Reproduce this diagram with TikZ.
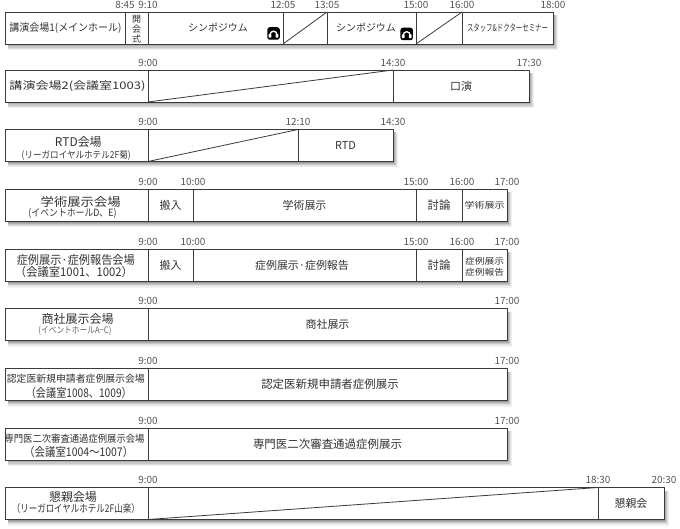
\documentclass[tikz,border=0pt]{standalone}
\usepackage{graphicx}
\usepackage{fontspec}
\setmainfont{Noto Sans CJK JP}
\definecolor{ink}{HTML}{3A3A3A}
\definecolor{txtc}{HTML}{333333}
\definecolor{tlab}{HTML}{555555}
\definecolor{lightt}{HTML}{666666}
\definecolor{shA}{HTML}{F0F0F0}
\definecolor{shB}{HTML}{DEDEDE}
\definecolor{shC}{HTML}{C8C8C8}
\definecolor{shD}{HTML}{B0B0B0}
\definecolor{shE}{HTML}{989898}
\newcommand\fsz[1]{\fontsize{#1}{#1}\selectfont}
\newcommand\sq[2]{\resizebox{#1}{\height}{#2}}
\newcommand\cellbox[5]{% name, x1, x2, ytop, ybot
  \pgfmathsetmacro\cellW{#3-#2}\pgfmathsetmacro\cellH{#5-#4}%
  \node[cell, minimum width=\cellW bp, minimum height=\cellH bp] (#1) at ({(#2+#3)/2},{(#4+#5)/2}) {};}
\newcommand\shbox[6]{% name, x1, x2, ytop, ybot, colour
  \pgfmathsetmacro\shW{(#3)-(#2)}\pgfmathsetmacro\shH{(#5)-(#4)}%
  \pgfmathsetmacro\shX{((#2)+(#3))/2}\pgfmathsetmacro\shY{((#4)+(#5))/2}%
  \node[shadowbox, fill=#6, minimum width=\shW bp, minimum height=\shH bp] (#1) at (\shX,\shY) {};}
\newcommand\shadeRow[5]{% prefix, x1, x2, ytop, ybot
  \shbox{#1a}{#2+3}{#3+4.5}{#4+3}{#5+6}{shA}%
  \shbox{#1b}{#2+3}{#3+3.6}{#4+3}{#5+4.8}{shB}%
  \shbox{#1c}{#2+3}{#3+2.7}{#4+3}{#5+3.6}{shC}%
  \shbox{#1d}{#2+3}{#3+1.8}{#4+3}{#5+2.4}{shD}%
  \shbox{#1e}{#2+3}{#3+0.9}{#4+3}{#5+1.2}{shE}}
\begin{document}
\begin{tikzpicture}[x=1bp,y=-1bp,
  cell/.style={draw=ink, line width=0.8bp, fill=white, inner sep=0pt, outer sep=0pt},
  shadowbox/.style={draw=none, inner sep=0pt, outer sep=0pt},
  txt/.style={inner sep=0pt, outer sep=0pt, text=txtc, align=center},
  tl/.style={inner sep=0pt, text=tlab, font=\fsz{10}},
  diag/.style={draw=ink, line width=0.8bp},
  phone/.style={fill=black, rounded corners=2.5bp, minimum size=12.5bp, inner sep=0pt,
    path picture={
      \draw[white, line width=1.3bp] ([xshift=-3.5bp,yshift=-1.2bp]path picture bounding box.center) arc[start angle=180, end angle=0, radius=3.5bp];
      \fill[white, rounded corners=0.6bp] ([xshift=-4.8bp,yshift=-4.2bp]path picture bounding box.center) rectangle ++(2.6bp,3.8bp);
      \fill[white, rounded corners=0.6bp] ([xshift=2.2bp,yshift=-4.2bp]path picture bounding box.center) rectangle ++(2.6bp,3.8bp);
    }}]
\useasboundingbox (0,0) rectangle (680,529);

% ---------- Row 1
\shadeRow{sh1}{5}{553}{12}{44}
\cellbox{v1}{5}{125}{12}{44}
\cellbox{o1}{125}{148}{12}{44}
\cellbox{s1}{148}{283}{12}{44}
\cellbox{d1}{283}{327}{12}{44}
\cellbox{s2}{327}{416}{12}{44}
\cellbox{d2}{416}{462}{12}{44}
\cellbox{m1}{462}{553}{12}{44}
\draw[diag] (d1.south west) -- (d1.north east);
\draw[diag] (d2.south west) -- (d2.north east);
\node[txt, font=\fsz{10.5}] (v1t) at (65.5,28) {\sq{112bp}{講演会場1(メインホール)}};
\node[txt, font=\fontsize{9}{10}\selectfont] (o1t) at (136.5,29) {開\\会\\式};
\node[txt, font=\fsz{10}] (s1t) at (218,27.5) {シンポジウム};
\node[phone] (p1) at (273.5,33.5) {};
\node[txt, font=\fsz{10}] (s2t) at (366,27.5) {シンポジウム};
\node[phone] (p2) at (406.7,34) {};
\node[txt, font=\fsz{9.5}] (m1t) at (507.5,28) {\sq{81bp}{スタッフ\&ドクターセミナー}};
\foreach \x/\t [count=\i] in {125/8:45,148/9:10,283/12:05,327/13:05,416/15:00,462/16:00,553/18:00}
  \node[tl] (r1t\i) at (\x,4.5) {\t};

% ---------- Row 2
\shadeRow{sh2}{5}{529}{70}{102}
\cellbox{v2}{5}{148}{70}{102}
\cellbox{d3}{148}{393}{70}{102}
\cellbox{k2}{393}{529}{70}{102}
\draw[diag] (d3.south west) -- (d3.north east);
\node[txt, font=\fsz{10.5}] (v2t) at (77.5,86) {\sq{136bp}{講演会場2(会議室1003)}};
\node[txt, font=\fsz{11}] (k2t) at (461,86) {口演};
\foreach \x/\t [count=\i] in {148/9:00,393/14:30,529/17:30}
  \node[tl] (r2t\i) at (\x,62.5) {\t};

% ---------- Row 3
\shadeRow{sh3}{5}{393}{129.5}{161.5}
\cellbox{v3}{5}{148}{129.5}{161.5}
\cellbox{d4}{148}{298}{129.5}{161.5}
\cellbox{r3}{298}{393}{129.5}{161.5}
\draw[diag] (d4.south west) -- (d4.north east);
\node[txt, font=\fsz{12}] (v3a) at (78.3,141.5) {RTD会場};
\node[txt, font=\fsz{9.5}] (v3b) at (76.2,155) {\sq{109bp}{(リーガロイヤルホテル2F菊)}};
\node[txt, font=\fsz{11}] (r3t) at (345.5,145.5) {RTD};
\foreach \x/\t [count=\i] in {148/9:00,298/12:10,393/14:30}
  \node[tl] (r3t\i) at (\x,122) {\t};

% ---------- Row 4
\shadeRow{sh4}{5}{507}{189.5}{221.5}
\cellbox{v4}{5}{148}{189.5}{221.5}
\cellbox{h4}{148}{193}{189.5}{221.5}
\cellbox{g4}{193}{416}{189.5}{221.5}
\cellbox{u4}{416}{462}{189.5}{221.5}
\cellbox{e4}{462}{507}{189.5}{221.5}
\node[txt, font=\fsz{12}] (v4a) at (80.7,201.5) {\sq{80bp}{学術展示会場}};
\node[txt, font=\fsz{10}] (v4b) at (72.5,213.3) {\sq{88bp}{(イベントホールD、E)}};
\node[txt, font=\fsz{11}] (h4t) at (170.5,205.5) {搬入};
\node[txt, font=\fsz{11}] (g4t) at (304.5,205.5) {学術展示};
\node[txt, font=\fsz{11.5}] (u4t) at (439,205.5) {討論};
\node[txt, font=\fsz{8.5}] (e4t) at (484.5,205.5) {\sq{40bp}{学術展示}};
\foreach \x/\t [count=\i] in {148/9:00,193/10:00,416/15:00,462/16:00,507/17:00}
  \node[tl] (r4t\i) at (\x,182) {\t};

% ---------- Row 5
\shadeRow{sh5}{5}{507}{249.5}{281.5}
\cellbox{v5}{5}{148}{249.5}{281.5}
\cellbox{h5}{148}{193}{249.5}{281.5}
\cellbox{g5}{193}{416}{249.5}{281.5}
\cellbox{u5}{416}{462}{249.5}{281.5}
\cellbox{e5}{462}{507}{249.5}{281.5}
\node[txt, font=\fsz{12}] (v5a) at (75.8,260.5) {\sq{118bp}{症例展示·症例報告会場}};
\node[txt, font=\fsz{12}] (v5b) at (74,272) {\sq{118bp}{（会議室1001、1002）}};
\node[txt, font=\fsz{11}] (h5t) at (170.5,265.5) {搬入};
\node[txt, font=\fsz{11}] (g5t) at (302,265.5) {症例展示·症例報告};
\node[txt, font=\fsz{11.5}] (u5t) at (439,265.5) {討論};
\node[txt, font=\fontsize{8.5}{11}\selectfont] (e5t) at (484.5,266.5) {\sq{39bp}{症例展示}\\\sq{39bp}{症例報告}};
\foreach \x/\t [count=\i] in {148/9:00,193/10:00,416/15:00,462/16:00,507/17:00}
  \node[tl] (r5t\i) at (\x,242) {\t};

% ---------- Row 6
\shadeRow{sh6}{5}{507}{308.5}{340.5}
\cellbox{v6}{5}{148}{308.5}{340.5}
\cellbox{g6}{148}{507}{308.5}{340.5}
\node[txt, font=\fsz{12}] (v6a) at (77.5,318.5) {\sq{72bp}{商社展示会場}};
\node[txt, font=\fsz{9}, text=lightt] (v6b) at (75,330.7) {\sq{73bp}{(イベントホールA−C)}};
\node[txt, font=\fsz{11}] (g6t) at (327.5,324.5) {商社展示};
\foreach \x/\t [count=\i] in {148/9:00,507/17:00}
  \node[tl] (r6t\i) at (\x,301) {\t};

% ---------- Row 7
\shadeRow{sh7}{5}{507}{368.5}{400.5}
\cellbox{v7}{5}{148}{368.5}{400.5}
\cellbox{g7}{148}{507}{368.5}{400.5}
\node[txt, font=\fsz{10}] (v7a) at (75.8,378.5) {\sq{138bp}{認定医新規申請者症例展示会場}};
\node[txt, font=\fsz{12}] (v7b) at (78.8,392.5) {\sq{106bp}{（会議室1008、1009）}};
\node[txt, font=\fsz{11.5}] (g7t) at (330,384.5) {認定医新規申請者症例展示};
\foreach \x/\t [count=\i] in {148/9:00,507/17:00}
  \node[tl] (r7t\i) at (\x,361) {\t};

% ---------- Row 8
\shadeRow{sh8}{5}{507}{428}{460}
\cellbox{v8}{5}{148}{428}{460}
\cellbox{g8}{148}{507}{428}{460}
\node[txt, font=\fsz{10}] (v8a) at (74.5,438.3) {\sq{140bp}{専門医二次審査通過症例展示会場}};
\node[txt, font=\fsz{12}] (v8b) at (78.7,451.7) {\sq{109bp}{（会議室1004〜1007）}};
\node[txt, font=\fsz{11.5}] (g8t) at (327.5,444) {専門医二次審査通過症例展示};
\foreach \x/\t [count=\i] in {148/9:00,507/17:00}
  \node[tl] (r8t\i) at (\x,420.5) {\t};

% ---------- Row 9
\shadeRow{sh9}{5}{664}{487.5}{519.5}
\cellbox{v9}{5}{148}{487.5}{519.5}
\cellbox{d9}{148}{598}{487.5}{519.5}
\cellbox{k9}{598}{664}{487.5}{519.5}
\draw[diag] (d9.south west) -- (d9.north east);
\node[txt, font=\fsz{12}] (v9a) at (73,497) {懇親会場};
\node[txt, font=\fsz{10.5}] (v9b) at (75.8,509) {\sq{128bp}{（リーガロイヤルホテル2F山楽）}};
\node[txt, font=\fsz{11}] (k9t) at (631,503.5) {懇親会};
\foreach \x/\t [count=\i] in {148/9:00,598/18:30,664/20:30}
  \node[tl] (r9t\i) at (\x,480) {\t};
\end{tikzpicture}
\end{document}
